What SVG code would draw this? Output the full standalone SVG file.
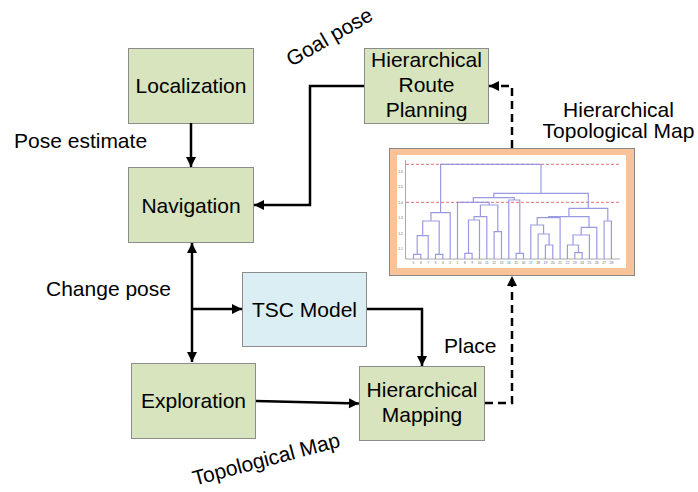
<svg xmlns="http://www.w3.org/2000/svg" width="698" height="492" viewBox="0 0 698 492">
<style>
  .box rect { fill: #D7E4BD; stroke: #8C8C8C; stroke-width: 1; }
  .box.blue rect { fill: #DBEEF3; }
  .t { font-family: "Liberation Sans", Arial, sans-serif; font-size: 21px; fill: #000; }
  .c { text-anchor: middle; }
  .conn { fill: none; stroke: #000; stroke-width: 2.5; }
  .dash { stroke-dasharray: 8 5; }
  .dendro { fill: none; stroke: #8F8FE0; stroke-width: 1.2; stroke-opacity: 0.9; }
  .red { fill: none; stroke: #E07070; stroke-width: 1; stroke-dasharray: 3 2; }
  .tiny { font-family: "Liberation Sans", Arial, sans-serif; font-size: 3.3px; fill: #666; text-anchor: middle; }
</style>
<defs>
  <marker id="arr" markerUnits="userSpaceOnUse" markerWidth="12" markerHeight="12" viewBox="0 0 12 12" refX="11" refY="6" orient="auto-start-reverse">
    <path d="M1,1 L11,6 L1,11 Z" fill="#000"/>
  </marker>
</defs>
<rect x="0" y="0" width="698" height="492" fill="#fff"/>

<g id="localization" class="box">
  <rect x="128.5" y="48.5" width="125" height="75"/>
  <text class="t c" x="191" y="92.5">Localization</text>
</g>
<g id="navigation" class="box">
  <rect x="128.5" y="167.5" width="125" height="75"/>
  <text class="t c" x="191" y="212.5">Navigation</text>
</g>
<g id="route-planning" class="box">
  <rect x="364.5" y="48.5" width="124" height="75"/>
  <text class="t c" x="426.5" y="67">Hierarchical</text>
  <text class="t c" x="426.5" y="92">Route</text>
  <text class="t c" x="426.5" y="117">Planning</text>
</g>
<g id="tsc-model" class="box blue">
  <rect x="242.5" y="272.5" width="124" height="74"/>
  <text class="t c" x="304.5" y="317">TSC Model</text>
</g>
<g id="exploration" class="box">
  <rect x="131.5" y="363.5" width="124" height="75"/>
  <text class="t c" x="193.5" y="407.5">Exploration</text>
</g>
<g id="mapping" class="box">
  <rect x="359.5" y="366.5" width="125" height="74"/>
  <text class="t c" x="422" y="397">Hierarchical</text>
  <text class="t c" x="422" y="422">Mapping</text>
</g>

<g id="topological-map">
  <rect x="389.5" y="148.5" width="245" height="127" fill="#F9C39A" stroke="#888" stroke-width="1"/>
  <rect x="397" y="155" width="229" height="113" fill="#fff"/>
  <path d="M405.5 160 V259 H620" fill="none" stroke="#aaa" stroke-width="1"/>
  <path class="red" d="M406 164.3 H620 M406 202.3 H620"/>
  <path class="dendro" d="M413.5 259 V254.3 H420.8 V259 M417.2 254.3 V235.7 H428.2 V259 M435.5 259 V254.3 H442.8 V259 M422.7 235.7 V221 H439.2 V254.3 M431 221 V212.7 H450.2 V259 M464.8 259 V253.3 H472.1 V259 M468.5 253.3 V220 H479.5 V259 M474 220 V216.7 H486.8 V259 M494.1 259 V231.7 H501.5 V259 M480.4 216.7 V205 H497.8 V231.7 M457.5 259 V202.3 H489.1 V205 M516.1 259 V253.3 H523.5 V259 M508.8 259 V200 H519.8 V253.3 M473.3 202.3 V197.7 H514.3 V200 M545.4 259 V245 H552.8 V259 M538.1 259 V234 H549.1 V245 M530.8 259 V225 H543.6 V234 M537.2 225 V217.7 H560.1 V259 M574.8 259 V252.7 H582.1 V259 M567.4 259 V245 H578.5 V252.7 M573 245 V235 H589.4 V259 M581.2 235 V227.3 H596.8 V259 M548.7 217.7 V216.7 H589 V227.3 M604.1 259 V221 H611.4 V259 M568.9 216.7 V208.3 H607.8 V221 M493.8 197.7 V193.3 H588.3 V208.3 M440.6 212.7 V164.3 H541 V193.3"/>
  <g class="tiny">
    <text x="400.5" y="172.5">1.6</text>
    <text x="400.5" y="188">1.5</text>
    <text x="400.5" y="203.5">1.4</text>
    <text x="400.5" y="219">1.3</text>
    <text x="400.5" y="234.5">1.2</text>
    <text x="400.5" y="250">1.1</text>
    <text x="413.5" y="264">5</text>
    <text x="420.8" y="264">6</text>
    <text x="428.2" y="264">7</text>
    <text x="435.5" y="264">3</text>
    <text x="442.8" y="264">4</text>
    <text x="450.2" y="264">2</text>
    <text x="457.5" y="264">1</text>
    <text x="464.8" y="264">8</text>
    <text x="472.1" y="264">9</text>
    <text x="479.5" y="264">10</text>
    <text x="486.8" y="264">11</text>
    <text x="494.1" y="264">12</text>
    <text x="501.5" y="264">13</text>
    <text x="508.8" y="264">14</text>
    <text x="516.1" y="264">15</text>
    <text x="523.5" y="264">16</text>
    <text x="530.8" y="264">17</text>
    <text x="538.1" y="264">18</text>
    <text x="545.4" y="264">19</text>
    <text x="552.8" y="264">20</text>
    <text x="560.1" y="264">21</text>
    <text x="567.4" y="264">22</text>
    <text x="574.8" y="264">23</text>
    <text x="582.1" y="264">24</text>
    <text x="589.4" y="264">25</text>
    <text x="596.8" y="264">26</text>
    <text x="604.1" y="264">27</text>
    <text x="611.4" y="264">28</text>
  </g>
</g>

<g id="connectors">
  <path class="conn" d="M191 123 V167" marker-end="url(#arr)"/>
  <path class="conn" d="M364 86 H310 V205 H254" stroke-width="2" marker-end="url(#arr)"/>
  <path class="conn dash" d="M512 148 V86 H489" marker-end="url(#arr)"/>
  <path class="conn" d="M192 243 V362" marker-start="url(#arr)" marker-end="url(#arr)"/>
  <path class="conn" d="M192 309 H242" marker-end="url(#arr)"/>
  <path class="conn" d="M367 309 H422 V366" marker-end="url(#arr)"/>
  <path class="conn" d="M256 401 L359 403.5" marker-end="url(#arr)"/>
  <path class="conn dash" d="M485 403 H512 V276" marker-end="url(#arr)"/>
</g>

<g id="labels">
  <text class="t" x="14" y="148">Pose estimate</text>
  <text class="t" x="46" y="296">Change pose</text>
  <text class="t" x="444" y="353">Place</text>
  <text class="t c" x="618.5" y="116.5">Hierarchical</text>
  <text class="t c" x="618.5" y="137.5">Topological Map</text>
  <text class="t c" transform="translate(333,43) rotate(-30)">Goal pose</text>
  <text class="t c" transform="translate(268,466) rotate(-15)">Topological Map</text>
</g>
</svg>
